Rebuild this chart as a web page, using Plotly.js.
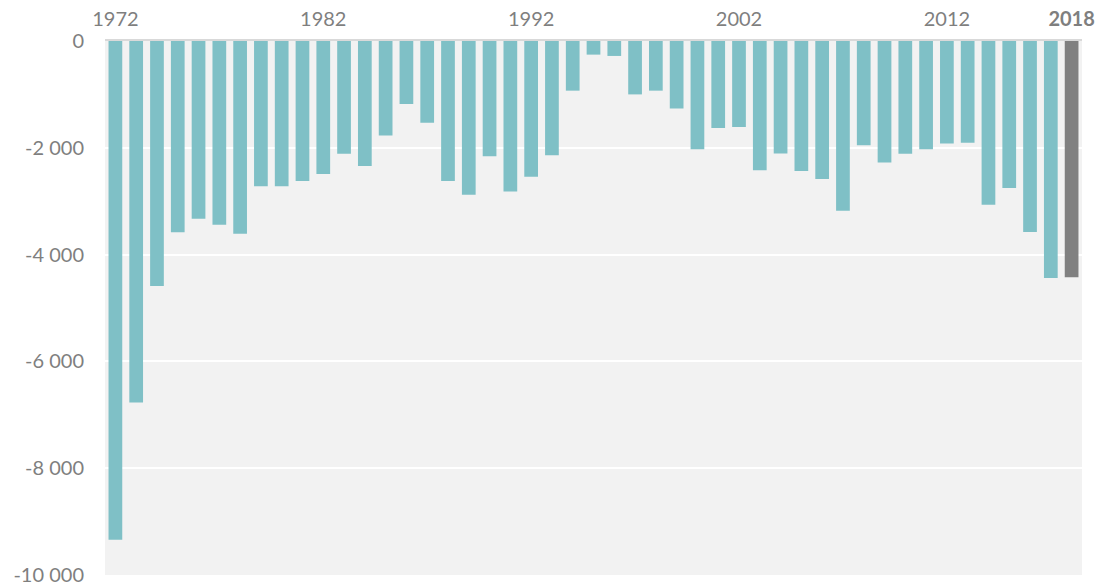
<!DOCTYPE html>
<html>
<head>
<meta charset="utf-8">
<script src="https://cdn.plot.ly/plotly-3.0.1.min.js"></script>
<style>html,body{margin:0;padding:0;background:#fff;}#chart{width:1107px;height:586px;}</style>
</head>
<body>
<div id="chart"></div>
<script>
const years = [1972,1973,1974,1975,1976,1977,1978,1979,1980,1981,1982,1983,1984,1985,1986,1987,1988,1989,1990,1991,1992,1993,1994,1995,1996,1997,1998,1999,2000,2001,2002,2003,2004,2005,2006,2007,2008,2009,2010,2011,2012,2013,2014,2015,2016,2017,2018];
const values = [-9340,-6770,-4590,-3580,-3330,-3440,-3610,-2720,-2720,-2620,-2490,-2110,-2340,-1770,-1180,-1530,-2620,-2880,-2160,-2820,-2540,-2140,-930,-255,-280,-1000,-930,-1265,-2025,-1630,-1610,-2420,-2105,-2435,-2585,-3180,-1950,-2275,-2110,-2025,-1920,-1905,-3065,-2755,-3575,-4440,-4425];
const xTickVals = [1972,1982,1992,2002,2012,2018];
const xTickText = ['1972','1982','1992','2002','2012','<b>2018</b>'];
const yTickVals = [0,-2000,-4000,-6000,-8000,-10000];
const yTickText = ['0','-2 000','-4 000','-6 000','-8 000','-10 000'];
const highlightYear = 2018;

const colors = years.map(y => y === highlightYear ? '#808080' : '#7fc0c6');

Plotly.newPlot('chart', [{
  type: 'bar',
  x: years,
  y: values,
  marker: {color: colors},
  hoverinfo: 'x+y'
}], {
  width: 1107, height: 586,
  margin: {l: 105, r: 25, t: 41, b: 11},
  paper_bgcolor: '#ffffff',
  plot_bgcolor: '#f2f2f2',
  bargap: 0.34,
  showlegend: false,
  font: {family: 'Lato, "Open Sans", sans-serif', size: 20, color: '#7f7f7f'},
  xaxis: {
    side: 'top',
    range: [1971.5, 2018.5],
    tickvals: xTickVals,
    ticktext: xTickText,
    showgrid: false,
    zeroline: false,
    showline: true,
    linecolor: '#d9d9d9',
    linewidth: 2,
    ticks: '',
    ticklabelstandoff: 5,
    tickfont: {size: 20, color: '#7f7f7f'}
  },
  yaxis: {
    range: [-10000, 0],
    tickvals: yTickVals,
    ticktext: yTickText,
    showgrid: true,
    gridcolor: '#ffffff',
    gridwidth: 2,
    zeroline: false,
    showline: false,
    ticks: '',
    ticklabelstandoff: 20,
    tickfont: {size: 20, color: '#7f7f7f'}
  }
}, {displayModeBar: false, staticPlot: true});
</script>
</body>
</html>
